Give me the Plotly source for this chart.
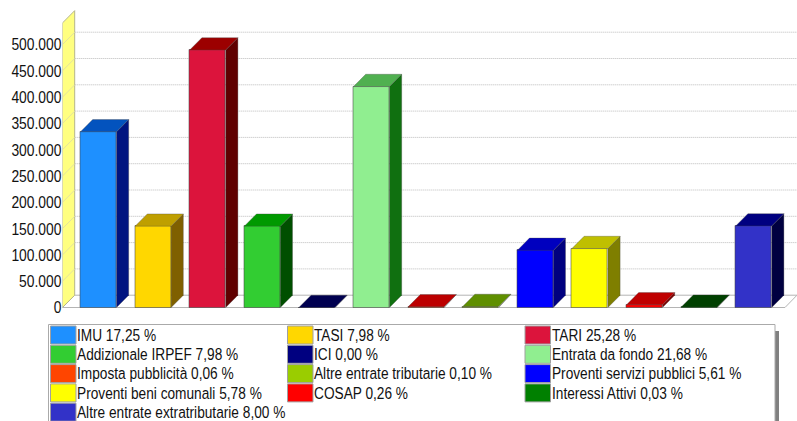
import plotly.graph_objects as go

categories = ["IMU", "TASI", "TARI", "Addizionale IRPEF", "ICI", "Entrata da fondo",
              "Imposta pubblicità", "Altre entrate tributarie", "Proventi servizi pubblici",
              "Proventi beni comunali", "COSAP", "Interessi Attivi", "Altre entrate extratributarie"]
values = [334000, 154500, 489500, 154500, 0, 420000, 1200, 1900, 108600, 112000, 5000, 600, 155000]
percent_labels = ["17,25", "7,98", "25,28", "7,98", "0,00", "21,68", "0,06", "0,10", "5,61", "5,78", "0,26", "0,03", "8,00"]
tick_values = [0, 50000, 100000, 150000, 200000, 250000, 300000, 350000, 400000, 450000, 500000]
front_colors = ["#1E90FF", "#FFD700", "#DC143C", "#32CD32", "#000080", "#90EE90", "#FF4500",
                "#9ACD00", "#0000FF", "#FFFF00", "#FF0000", "#008000", "#3232C8"]
top_colors = ["#0353BE", "#BF9F00", "#9C0000", "#009900", "#000050", "#50B050", "#BC0000",
              "#5F8F00", "#0000BF", "#BFBF00", "#BF0000", "#004000", "#000080"]
side_colors = ["#001480", "#7F6000", "#5F0000", "#004F00", "#000040", "#107010", "#7F0000",
               "#4F6F00", "#00007F", "#7F7F00", "#7F0000", "#003000", "#000040"]

W, H = 797, 421
PX_PER_CAT = 54.6
PX_PER_UNIT = 0.526 / 1000
X0_PX, Y0_PX = 98.5, 307.5
LEFT_PX = 62.5
DX = 12.2 / PX_PER_CAT
DY = 12.3 / PX_PER_UNIT
BAR_W = 36 / PX_PER_CAT
x_lo = (LEFT_PX - X0_PX) / PX_PER_CAT
x_hi = (W - X0_PX) / PX_PER_CAT
x_floor_end = (785 - X0_PX) / PX_PER_CAT
y_lo = (Y0_PX - H) / PX_PER_UNIT
y_hi = Y0_PX / PX_PER_UNIT
WALL_TOP = 541000
EDGE = "rgba(70,70,70,0.55)"

fig = go.Figure()
idx = list(range(len(values)))
fig.add_trace(go.Bar(x=idx, y=values, width=BAR_W, marker=dict(color=front_colors, line=dict(color=EDGE, width=1)),
                     showlegend=False, hovertext=categories, hoverinfo="text+y", name="Entrate"))
for i, v in enumerate(values):
    l, r = i - BAR_W / 2, i + BAR_W / 2
    fig.add_trace(go.Scatter(x=[r, r + DX, r + DX, r, r], y=[0, DY, v + DY, v, 0], mode="lines", fill="toself",
                             fillcolor=side_colors[i], line=dict(color=EDGE, width=0.6), showlegend=False, hoverinfo="skip"))
    fig.add_trace(go.Scatter(x=[l, r, r + DX, l + DX, l], y=[v, v, v + DY, v + DY, v], mode="lines", fill="toself",
                             fillcolor=top_colors[i], line=dict(color=EDGE, width=0.6), showlegend=False, hoverinfo="skip"))

shapes = []
def poly(xs, ys):
    return "M " + " L ".join(f"{a},{b}" for a, b in zip(xs, ys)) + " Z"

# floor and yellow wall
shapes.append(dict(type="path", path=poly([x_lo, x_lo + DX, x_hi, x_floor_end], [0, DY, DY, 0]), xref="x", yref="y",
                   fillcolor="white", line=dict(color="#b4b4b4", width=1), layer="below"))
shapes.append(dict(type="path", path=poly([x_lo, x_lo + DX, x_lo + DX, x_lo], [0, DY, WALL_TOP + DY, WALL_TOP]), xref="x", yref="y",
                   fillcolor="#FFFF80", line=dict(color="#b5b58a", width=1), layer="below"))
for t in tick_values[1:]:
    shapes.append(dict(type="line", x0=x_lo + DX, x1=x_hi, y0=t + DY, y1=t + DY, xref="x", yref="y",
                       line=dict(color="#bbbbbb", width=1, dash="1px,1px"), layer="below"))
    shapes.append(dict(type="line", x0=x_lo, x1=x_lo + DX, y0=t, y1=t + DY, xref="x", yref="y",
                       line=dict(color="#e2e2a0", width=1), layer="below"))

def px(x):
    return x / W
def py(y):
    return 1 - y / H

# legend
shapes.append(dict(type="rect", xref="paper", yref="paper", x0=px(775), x1=px(779), y0=py(421), y1=py(331),
                   fillcolor="#808080", line=dict(width=0)))
shapes.append(dict(type="rect", xref="paper", yref="paper", x0=px(48.5), x1=px(775), y0=py(421.5), y1=py(324.5),
                   fillcolor="white", line=dict(color="#aaaaaa", width=1)))
col_px = [50.5, 287.5, 525]
row_h = 19.3
annotations = []
for i, (c, p) in enumerate(zip(categories, percent_labels)):
    col, row = i % 3, i // 3
    x = col_px[col]
    top = 326 + row * row_h
    shapes.append(dict(type="rect", xref="paper", yref="paper", x0=px(x), x1=px(x + 25.5), y0=py(top + 18), y1=py(top),
                       fillcolor=front_colors[i], line=dict(color="#a0a0a0", width=1)))
    annotations.append(dict(xref="paper", yref="paper", x=px(x + 24.5), y=py(top + 9.3), xanchor="left", yanchor="middle",
                            text=f"{c} {p} %", showarrow=False, font=dict(size=16.9, color="#111111")))

fig.update_layout(
    width=W, height=H, autosize=False, margin=dict(l=0, r=0, t=0, b=0, pad=0),
    paper_bgcolor="white", plot_bgcolor="white", separators=",.", bargap=0,
    font=dict(family="Liberation Sans, Arial, sans-serif", color="#111111"),
    shapes=shapes, annotations=annotations, showlegend=False,
    xaxis=dict(domain=[LEFT_PX / W, 1], range=[x_lo, x_hi], visible=False, fixedrange=True),
    yaxis=dict(domain=[0, 1], range=[y_lo, y_hi], tickvals=tick_values, tickformat=",d", showgrid=False, zeroline=False,
               showline=False, ticks="", tickfont=dict(size=16.9), fixedrange=True),
)

# The reference's text is horizontally condensed: narrow the real text nodes, and drop the page margin.
post_script = """
document.documentElement.style.overflow = 'hidden';
document.body.style.margin = '0';
function narrow() {
  document.querySelectorAll('.annotation-text, .ytick text').forEach(function (t) {
    if (t.dataset.narrowed) return;
    var n = t.getComputedTextLength();
    if (n > 0) {
      var isNote = t.classList.contains('annotation-text');
      var ratio = isNote ? 0.81 : 0.82;
      t.setAttribute('textLength', (n * ratio).toFixed(1));
      t.setAttribute('lengthAdjust', 'spacingAndGlyphs');
      if (isNote) {
        t.setAttribute('x', parseFloat(t.getAttribute('x')) - n * (1 - ratio) / 2);
      }
      t.dataset.narrowed = '1';
    }
  });
}
narrow();
setTimeout(narrow, 0);
setTimeout(narrow, 100);
"""
fig.write_html("out.html", post_script=post_script, config=dict(displayModeBar=False))
